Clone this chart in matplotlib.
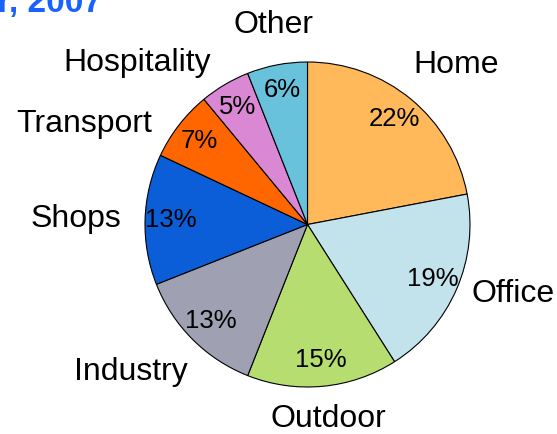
import matplotlib.pyplot as plt
import numpy as np

# data
sectors = ["Home", "Office", "Outdoor", "Industry", "Shops", "Transport", "Hospitality", "Other"]
shares = [22, 19, 15, 13, 13, 7, 5, 6]
colors = ["#FFB95B", "#C2E3EC", "#B6DD70", "#9FA1B2", "#0B5ED7", "#FF6600", "#DA88D4", "#68C2DC"]
title = "Energy use by sector, 2007"

# small hand nudges for the outside labels (pixels, x right / y up)
nudges = [(-11, 3), (-5, 3), (4, 3), (10, -3), (-3, 0), (-10, -12), (-3, -12), (0, 4)]

plt.rcParams['font.family'] = ['Liberation Sans', 'DejaVu Sans']

fig = plt.figure(figsize=(5.57, 4.34), dpi=100)
ax = fig.add_axes([0, 0, 1, 1])

wedges, _, pcts = ax.pie(shares, colors=colors, startangle=90, counterclock=False,
                         autopct='%d%%', pctdistance=0.84,
                         wedgeprops=dict(edgecolor='black', linewidth=0.8),
                         textprops=dict(fontsize=18.5, color='black'))

# outside labels, anchored by side
for w, name, nd in zip(wedges, sectors, nudges):
    ang = np.deg2rad((w.theta1 + w.theta2) / 2)
    c, s = np.cos(ang), np.sin(ang)
    ha = 'left' if c > 0.3 else ('right' if c < -0.3 else 'center')
    va = 'bottom' if s > 0.7 else ('top' if s < -0.7 else 'center')
    ax.annotate(name, (1.13 * c, 1.13 * s), xytext=nd, textcoords='offset pixels',
                ha=ha, va=va, fontsize=23)

ax.set_xlim(-307.5 / 162.5, (557 - 307.5) / 162.5)
ax.set_ylim(-209.5 / 162.5, 224.5 / 162.5)
ax.set_aspect('equal')
ax.axis('off')

fig.text(102 / 557, 1 - 12 / 434, title, ha='right', va='baseline',
         fontsize=24, fontweight='bold', color='#1A62FF')

fig.savefig("out.png", dpi=100)
